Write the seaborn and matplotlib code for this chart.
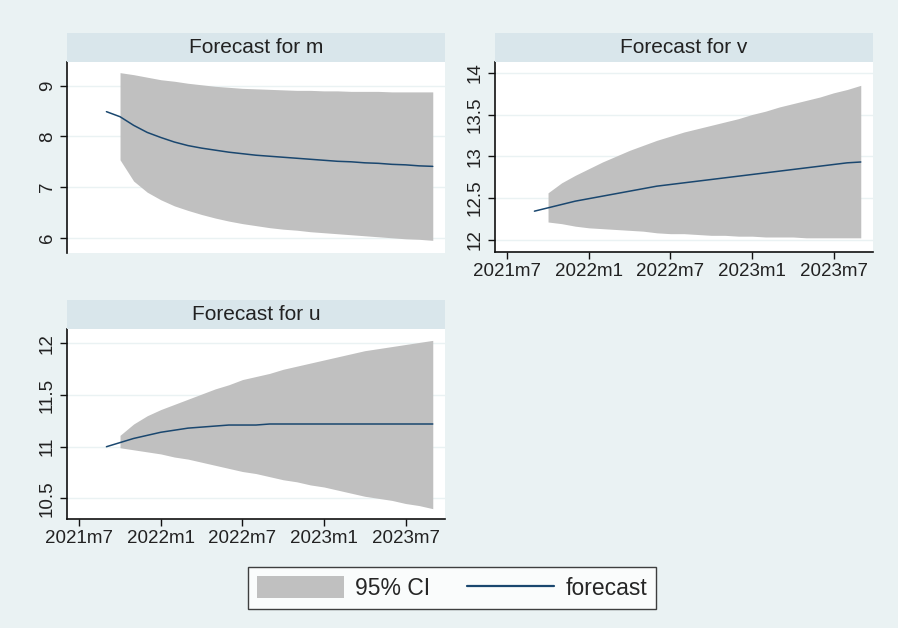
import numpy as np
import pandas as pd
import matplotlib
matplotlib.use("Agg")
import matplotlib.pyplot as plt
import seaborn as sns
from matplotlib.patches import Patch
from matplotlib.lines import Line2D

# ---- data ----
months = ["2021m9", "2021m10", "2021m11", "2021m12", "2022m1", "2022m2", "2022m3",
          "2022m4", "2022m5", "2022m6", "2022m7", "2022m8", "2022m9", "2022m10",
          "2022m11", "2022m12", "2023m1", "2023m2", "2023m3", "2023m4", "2023m5",
          "2023m6", "2023m7", "2023m8", "2023m9"]

fc_m = [8.49, 8.39, 8.22, 8.08, 7.98, 7.89, 7.82, 7.77, 7.73, 7.69, 7.66, 7.63, 7.61,
        7.59, 7.57, 7.55, 7.53, 7.51, 7.50, 7.48, 7.47, 7.45, 7.44, 7.42, 7.41]
up_m = [np.nan, 9.26, 9.22, 9.17, 9.12, 9.09, 9.05, 9.02, 8.99, 8.97, 8.95, 8.94, 8.93,
        8.92, 8.91, 8.91, 8.90, 8.90, 8.89, 8.89, 8.89, 8.88, 8.88, 8.88, 8.88]
lo_m = [np.nan, 7.54, 7.12, 6.90, 6.75, 6.63, 6.54, 6.46, 6.39, 6.33, 6.28, 6.24, 6.20,
        6.17, 6.15, 6.12, 6.10, 6.08, 6.06, 6.04, 6.02, 6.00, 5.98, 5.97, 5.95]

fc_v = [12.34, 12.38, 12.42, 12.46, 12.49, 12.52, 12.55, 12.58, 12.61, 12.64, 12.66,
        12.68, 12.70, 12.72, 12.74, 12.76, 12.78, 12.80, 12.82, 12.84, 12.86, 12.88,
        12.90, 12.92, 12.93]
up_v = [np.nan, 12.56, 12.68, 12.77, 12.85, 12.93, 13.00, 13.07, 13.13, 13.19, 13.24,
        13.29, 13.33, 13.37, 13.41, 13.45, 13.50, 13.54, 13.59, 13.63, 13.67, 13.71,
        13.76, 13.80, 13.85]
lo_v = [np.nan, 12.21, 12.19, 12.16, 12.14, 12.13, 12.12, 12.11, 12.10, 12.08, 12.07,
        12.07, 12.06, 12.05, 12.05, 12.04, 12.04, 12.03, 12.03, 12.03, 12.02, 12.02,
        12.02, 12.02, 12.02]

fc_u = [11.00, 11.04, 11.08, 11.11, 11.14, 11.16, 11.18, 11.19, 11.20, 11.21, 11.21,
        11.21, 11.22, 11.22, 11.22, 11.22, 11.22, 11.22, 11.22, 11.22, 11.22, 11.22,
        11.22, 11.22, 11.22]
up_u = [np.nan, 11.11, 11.22, 11.30, 11.36, 11.41, 11.46, 11.51, 11.56, 11.60, 11.65,
        11.68, 11.71, 11.75, 11.78, 11.81, 11.84, 11.87, 11.90, 11.93, 11.95, 11.97,
        11.99, 12.01, 12.03]
lo_u = [np.nan, 10.99, 10.97, 10.95, 10.93, 10.90, 10.88, 10.85, 10.82, 10.79, 10.76,
        10.74, 10.71, 10.68, 10.66, 10.63, 10.61, 10.58, 10.55, 10.52, 10.50, 10.48,
        10.45, 10.43, 10.40]

xtick_labels = ["2021m7", "2022m1", "2022m7", "2023m1", "2023m7"]
titles = ["Forecast for m", "Forecast for v", "Forecast for u"]


def month_index(s):
    y, m = s.split("m")
    return (int(y) - 2021) * 12 + int(m) - 7


t = np.array([month_index(s) for s in months])
xticks = [month_index(s) for s in xtick_labels]

series = {
    "m": (fc_m, up_m, lo_m),
    "v": (fc_v, up_v, lo_v),
    "u": (fc_u, up_u, lo_u),
}

# ---- style ----
BG = "#EAF2F3"
STRIP = "#D9E6EB"
BAND = "#C0C0C0"
NAVY = "#1A476F"

sns.set_theme(style="white")
plt.rcParams["font.family"] = ["Liberation Sans", "DejaVu Sans"]

W, H = 898, 628
fig = plt.figure(figsize=(W / 100, H / 100), dpi=100, facecolor=BG)


def rect(x0, y0, x1, y1):
    return [x0 / W, 1 - y1 / H, (x1 - x0) / W, (y1 - y0) / H]


panels = [
    # key, plot rect, strip rect, ylim, yticks, show x axis
    ("m", (67, 62, 445, 253), (67, 33, 445, 62), (5.70, 9.47), [6, 7, 8, 9], False),
    ("v", (495, 62, 873, 252), (495, 33, 873, 62), (11.85, 14.13),
     [12, 12.5, 13, 13.5, 14], True),
    ("u", (67, 329, 445, 519), (67, 300, 445, 329), (10.30, 12.14),
     [10.5, 11, 11.5, 12], True),
]

TICKFS = 13.5

for (key, prect, srect, ylim, yticks, showx), title in zip(panels, titles):
    fc, up, lo = series[key]
    df = pd.DataFrame({"t": t, "forecast": fc, "upper": up, "lower": lo})

    ax = fig.add_axes(rect(*prect))
    ax.set_facecolor("white")
    band = df.dropna()
    ax.fill_between(band["t"], band["lower"], band["upper"], color=BAND, lw=0,
                    zorder=1)
    sns.lineplot(data=df, x="t", y="forecast", ax=ax, color=NAVY, lw=1.1,
                 zorder=3, legend=False)

    ax.set_xlim(-0.9, 26.9)
    ax.set_ylim(*ylim)
    ax.set_yticks(yticks)
    ax.set_yticklabels([f"{v:g}" for v in yticks], rotation=90, va="center",
                       fontsize=TICKFS, color="#222222")
    for y in yticks:
        ax.axhline(y, color=BG, lw=1.0, zorder=0.5)
    ax.set_xlabel("")
    ax.set_ylabel("")
    ax.grid(False)

    for s in ["top", "right"]:
        ax.spines[s].set_visible(False)
    ax.spines["left"].set_color("#111111")
    ax.spines["left"].set_linewidth(1.2)
    ax.tick_params(axis="y", which="both", left=True, length=5, width=1,
                   color="#111111", pad=3)
    if showx:
        ax.spines["bottom"].set_color("#111111")
        ax.spines["bottom"].set_linewidth(1.2)
        ax.set_xticks(xticks)
        ax.set_xticklabels(xtick_labels, fontsize=TICKFS, color="#222222")
        ax.tick_params(axis="x", bottom=True, length=5, width=1,
                       color="#111111", pad=3)
    else:
        ax.spines["bottom"].set_visible(False)
        ax.set_xticks([])

    sax = fig.add_axes(rect(*srect))
    sax.set_facecolor(STRIP)
    sax.set_xticks([])
    sax.set_yticks([])
    for s in sax.spines.values():
        s.set_visible(False)
    sax.text(0.5, 0.5, title, ha="center", va="center", fontsize=15,
             color="#222222", transform=sax.transAxes)

handles = [Patch(facecolor=BAND, edgecolor="none", label="95% CI"),
           Line2D([], [], color=NAVY, lw=1.6, label="forecast")]
leg = fig.legend(handles=handles, loc="center", ncol=2,
                 bbox_to_anchor=(452 / W, 1 - 588 / H), frameon=True,
                 fancybox=False, edgecolor="#111111", facecolor="white",
                 fontsize=16.5, handlelength=3.8, handleheight=1.1,
                 handletextpad=0.5, columnspacing=1.6, borderpad=0.4,
                 borderaxespad=0)
leg.get_frame().set_linewidth(1.0)

fig.savefig("out.png", dpi=100, facecolor=BG)
